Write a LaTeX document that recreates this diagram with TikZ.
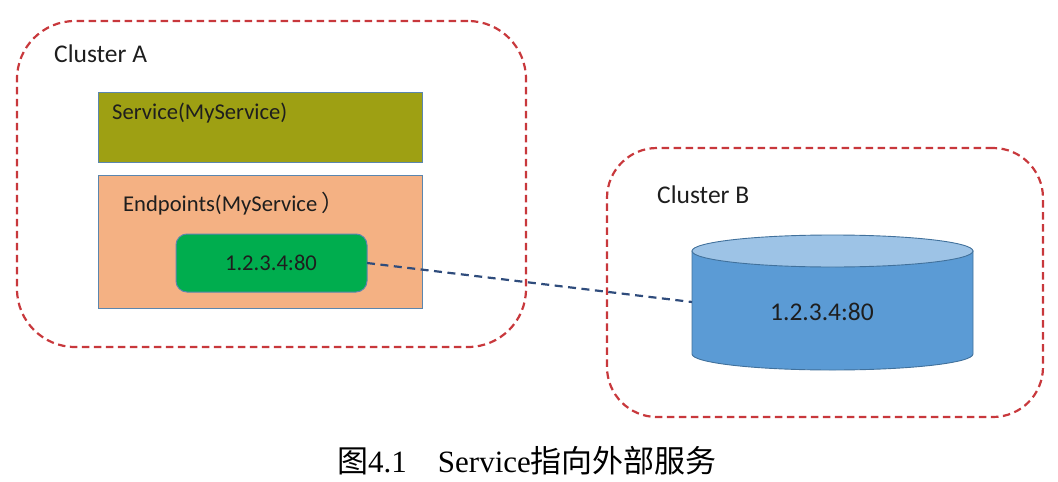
\documentclass[tikz,border=0pt]{standalone}
\usepackage{fontspec}
\setmainfont{Carlito}
\newfontfamily\capfont{Liberation Serif}
\newfontfamily\cjkfont{Noto Sans CJK SC}
\definecolor{clusterred}{HTML}{C8383C}
\definecolor{olivebox}{HTML}{9EA013}
\definecolor{peachbox}{HTML}{F4B183}
\definecolor{boxedge}{HTML}{5B86AE}
\definecolor{greenbox}{HTML}{00AD4E}
\definecolor{cylbody}{HTML}{5B9BD5}
\definecolor{cyltop}{HTML}{9DC3E6}
\definecolor{cyledge}{HTML}{41719C}
\definecolor{linkblue}{HTML}{2F4C7C}
\definecolor{labeltext}{HTML}{1E1E1E}
\tikzset{
  x=1pt,y=-1pt,
  box/.style={rectangle,inner sep=0pt,outer sep=0pt,anchor=north west},
  clusterbox/.style={box,draw=clusterred,line width=2.2pt,dash pattern=on 7.5pt off 4.5pt},
  flatbox/.style={box,draw=boxedge,line width=1pt},
  biglabel/.style={inner sep=0pt,anchor=base west,text=labeltext,font=\fontsize{25.5}{28}\selectfont},
  smalllabel/.style={inner sep=0pt,anchor=base west,text=labeltext,font=\fontsize{22.6}{26}\selectfont},
  link/.style={draw=linkblue,line width=2.2pt,dash pattern=on 8pt off 5.5pt},
  cyl/.style={draw=cyledge,line width=0.9pt}
}
\begin{document}
\begin{tikzpicture}
\useasboundingbox (0,0) rectangle (1058,482);
\node[clusterbox,minimum width=509pt,minimum height=326pt,rounded corners=58pt] (clusterA) at (17,21) {};
\node[clusterbox,minimum width=436pt,minimum height=269pt,rounded corners=50pt] (clusterB) at (607,148) {};
\node[biglabel] (clusterAlabel) at (54,62) {Cluster A};
\node[biglabel] (clusterBlabel) at (657,203) {Cluster B};
\node[flatbox,fill=olivebox,minimum width=324pt,minimum height=70pt] (service) at (98,92) {};
\node[smalllabel] (servicelabel) at (112,119) {Service(MyService)};
\node[flatbox,fill=peachbox,minimum width=324pt,minimum height=133pt] (endpoints) at (98,175) {};
\node[smalllabel] (endpointslabel) at (123,211) {Endpoints(MyService\,{\cjkfont）}};
\node[box,fill=greenbox,draw=boxedge,line width=1pt,rounded corners=11pt,minimum width=191pt,minimum height=58pt] (ip) at (176,234) {};
\node[smalllabel,anchor=base] (iplabel) at (271,270) {1.2.3.4:80};
% cylinder
\path[fill=cylbody,cyl] (692,251) -- (692,354) arc[start angle=180,end angle=0,x radius=140.5,y radius=16] -- (973,251) -- cycle;
\path[fill=cyltop,cyl] (832.5,251) ellipse[x radius=140.5,y radius=16];
\node[box,minimum width=281pt,minimum height=119pt] (db) at (692,251) {};
\node[biglabel,anchor=base] (dblabel) at (822,320) {1.2.3.4:80};
\coordinate (dbport) at (692,302);
\draw[link] (ip.east) -- (dbport);
\node[inner sep=0pt,anchor=base west,text=black,font=\fontsize{31}{33}\selectfont] (caption) at (337,472) {{\cjkfont 图}{\capfont 4.1\hspace{31pt}Service}{\cjkfont 指向外部服务}};
\end{tikzpicture}
\end{document}
